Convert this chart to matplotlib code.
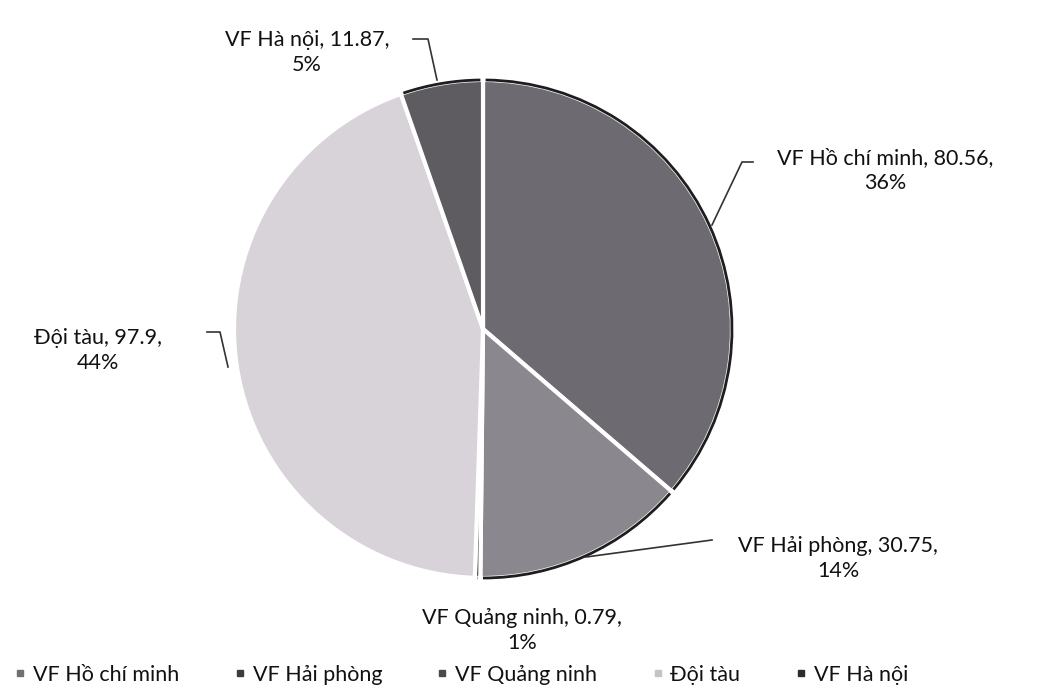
import matplotlib
matplotlib.use('Agg')
import matplotlib.pyplot as plt
from matplotlib.patches import Arc
from matplotlib.lines import Line2D

plt.rcParams['font.family'] = ['Lato', 'DejaVu Sans']

# data
names = ['VF Hồ chí minh', 'VF Hải phòng', 'VF Quảng ninh', 'Đội tàu', 'VF Hà nội']
values = [80.56, 30.75, 0.79, 97.9, 11.87]
percents = [36, 14, 1, 44, 5]

wedge_colors = ['#6e6a72', '#8b878e', '#5c5a5e', '#d8d3d8', '#5e5b61']
legend_colors = ['#707070', '#3c3c3c', '#4a4a4a', '#c4c4c4', '#2c2c2c']
dark_rim = [True, True, True, False, True]

W, H = 1045, 692
fig = plt.figure(figsize=(W / 100, H / 100), dpi=100)
ax = fig.add_axes([0, 0, 1, 1])

cx, cy, r = 483, H - 329, 249
wedges, _ = ax.pie(values, colors=wedge_colors, startangle=90, counterclock=False,
                   center=(cx, cy), radius=r, frame=True,
                   wedgeprops=dict(edgecolor='white', linewidth=3))
ax.set_xlim(0, W)
ax.set_ylim(0, H)
ax.set_aspect('equal')
ax.axis('off')

# dark outer rim on the darker slices
for w, rim in zip(wedges, dark_rim):
    if rim:
        ax.add_patch(Arc((cx, cy), 2 * r, 2 * r, theta1=w.theta1 + 0.6, theta2=w.theta2 - 0.6,
                         color='#1e1e1e', lw=2))

# data labels (position in pixels from top-left)
label_pos = [(885, 148), (838, 536), (522, 608), (98, 328), (307, 30)]
leaders = [
    [(753, 162), (742, 162), (712, 225)],
    [(712, 540), (586, 557)],
    None,
    [(207, 332), (220, 332), (228, 367)],
    [(413, 39), (428, 39), (437, 80)],
]
for name, v, p, pos, ld in zip(names, values, percents, label_pos, leaders):
    ax.text(pos[0], H - pos[1], f'{name}, {v},\n{p}%', ha='center', va='top',
            fontsize=15.5, color='#111111', linespacing=1.3)
    if ld:
        ax.plot([q[0] for q in ld], [H - q[1] for q in ld], color='#333333', lw=1.2)

handles = [Line2D([], [], marker='s', ls='', markersize=5, color=c) for c in legend_colors]
fig.legend(handles, names, loc='center', bbox_to_anchor=(0.44, 0.025), ncol=5,
           frameon=False, fontsize=15.5, handletextpad=0.2, columnspacing=2.4,
           handlelength=0.8, labelcolor='#111111')

fig.savefig('out.png', dpi=100, facecolor='white')
